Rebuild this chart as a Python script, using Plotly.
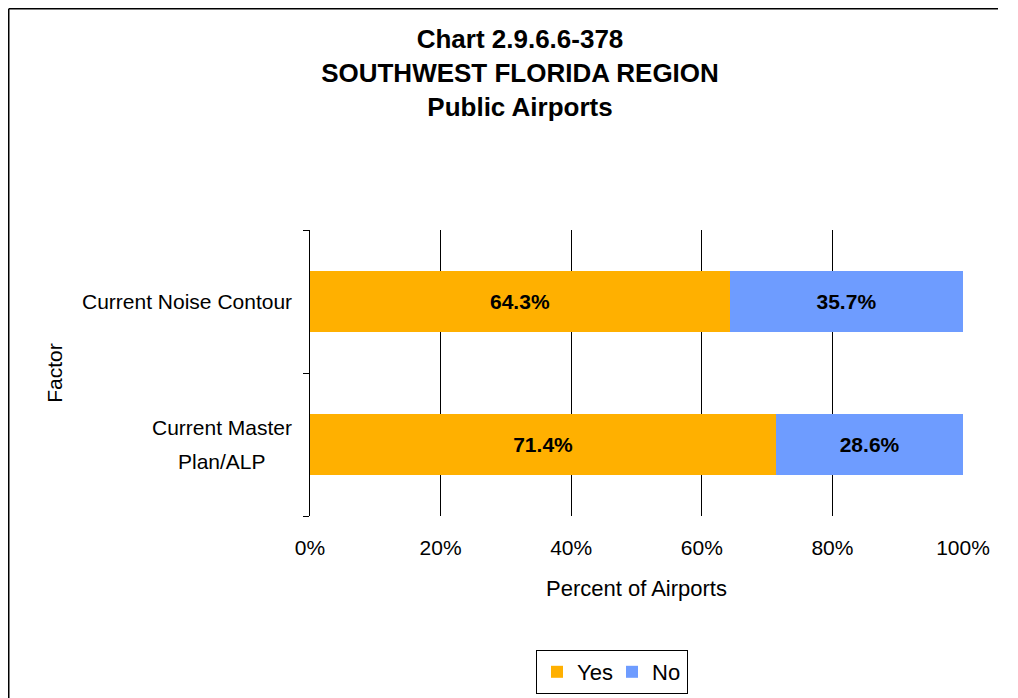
import plotly.graph_objects as go

categories = ["Current Master<br>Plan/ALP", "Current Noise Contour"]
yes_values = [71.4, 64.3]
no_values = [28.6, 35.7]
series_names = ["Yes", "No"]
x_tick_values = [0, 20, 40, 60, 80, 100]
x_tick_labels = ["0%", "20%", "40%", "60%", "80%", "100%"]

FONT = "Liberation Sans, Arial, sans-serif"

# figure geometry (page has an 8px body margin)
W, H = 1002, 690
L, R, T, B = 302, 47, 222, 182
PW = W - L - R
PH = H - T - B

fig = go.Figure()
fig.add_trace(go.Bar(
    y=categories, x=yes_values, name=series_names[0], orientation="h",
    marker=dict(color="#FFB000", line=dict(width=0)),
    text=[f"{v:.1f}%" for v in yes_values], textposition="inside",
    insidetextanchor="middle",
    textfont=dict(family=FONT, size=21, color="black", weight="bold"),
    width=0.43,
))
fig.add_trace(go.Bar(
    y=categories, x=no_values, name=series_names[1], orientation="h",
    marker=dict(color="#6E9CFF", line=dict(width=0)),
    text=[f"{v:.1f}%" for v in no_values], textposition="inside",
    insidetextanchor="middle",
    textfont=dict(family=FONT, size=21, color="black", weight="bold"),
    width=0.43,
))

fig.update_layout(
    barmode="stack",
    width=W, height=H,
    margin=dict(l=L, r=R, t=T, b=B, autoexpand=False),
    paper_bgcolor="white", plot_bgcolor="white",
    font=dict(family=FONT, size=21, color="black"),
    title=dict(
        text="<b>Chart 2.9.6.6-378<br>SOUTHWEST FLORIDA REGION<br>Public Airports</b>",
        x=512 / W, xanchor="center", y=1 - 40 / H, yanchor="top",
        font=dict(family=FONT, size=26, color="black"),
    ),
    showlegend=True,
    legend=dict(
        orientation="h", x=(604 - L) / PW, xanchor="center",
        y=(T + PH - 642) / PH, yanchor="top",
        bordercolor="black", borderwidth=1, bgcolor="white",
        font=dict(family=FONT, size=22), traceorder="normal",
        itemwidth=30, entrywidth=30, entrywidthmode="pixels",
    ),
    uniformtext=dict(mode="show", minsize=10),
)

fig.update_xaxes(
    range=[0, 100], tickvals=x_tick_values, ticktext=x_tick_labels,
    showgrid=True, gridcolor="black", gridwidth=1,
    showline=False, zeroline=False, ticks="",
    ticklabelstandoff=17,
    title=dict(text="Percent of Airports", standoff=22, font=dict(size=22)),
    tickfont=dict(size=21),
)
fig.update_yaxes(
    categoryorder="array", categoryarray=categories,
    showline=True, linecolor="black", linewidth=1,
    ticks="outside", tickson="boundaries", ticklen=6, tickcolor="black",
    showticklabels=False,
    showgrid=False, zeroline=False,
    title=dict(text="Factor", standoff=240, font=dict(size=21)),
)

# category labels to the left of the axis (multi-line labels centred)
LINE_GAP = 34
for cat in categories:
    lines = cat.split("<br>")
    n = len(lines)
    for i, line in enumerate(lines):
        if n > 1:
            xpos, anchor, xs = (214 - L) / PW, "center", 0
        else:
            xpos, anchor, xs = 0, "right", -16
        fig.add_annotation(
            x=xpos, xref="paper", y=cat, yref="y", text=line,
            showarrow=False, xanchor=anchor, xshift=xs,
            yshift=((n - 1) / 2 - i) * LINE_GAP,
            font=dict(family=FONT, size=21, color="black"),
        )

# outer chart frame (left and top edges visible in the picture)
fig.add_shape(type="line", xref="paper", yref="paper",
              x0=(0.75 - L) / PW, x1=(0.75 - L) / PW,
              y0=(T + PH - H) / PH, y1=(T + PH - 0.75) / PH,
              line=dict(color="black", width=1.5), layer="below")
fig.add_shape(type="line", xref="paper", yref="paper",
              x0=(0.75 - L) / PW, x1=(W - 12 - L) / PW,
              y0=(T + PH - 0.75) / PH, y1=(T + PH - 0.75) / PH,
              line=dict(color="black", width=1.5), layer="below")

fig.write_html("out.html")
